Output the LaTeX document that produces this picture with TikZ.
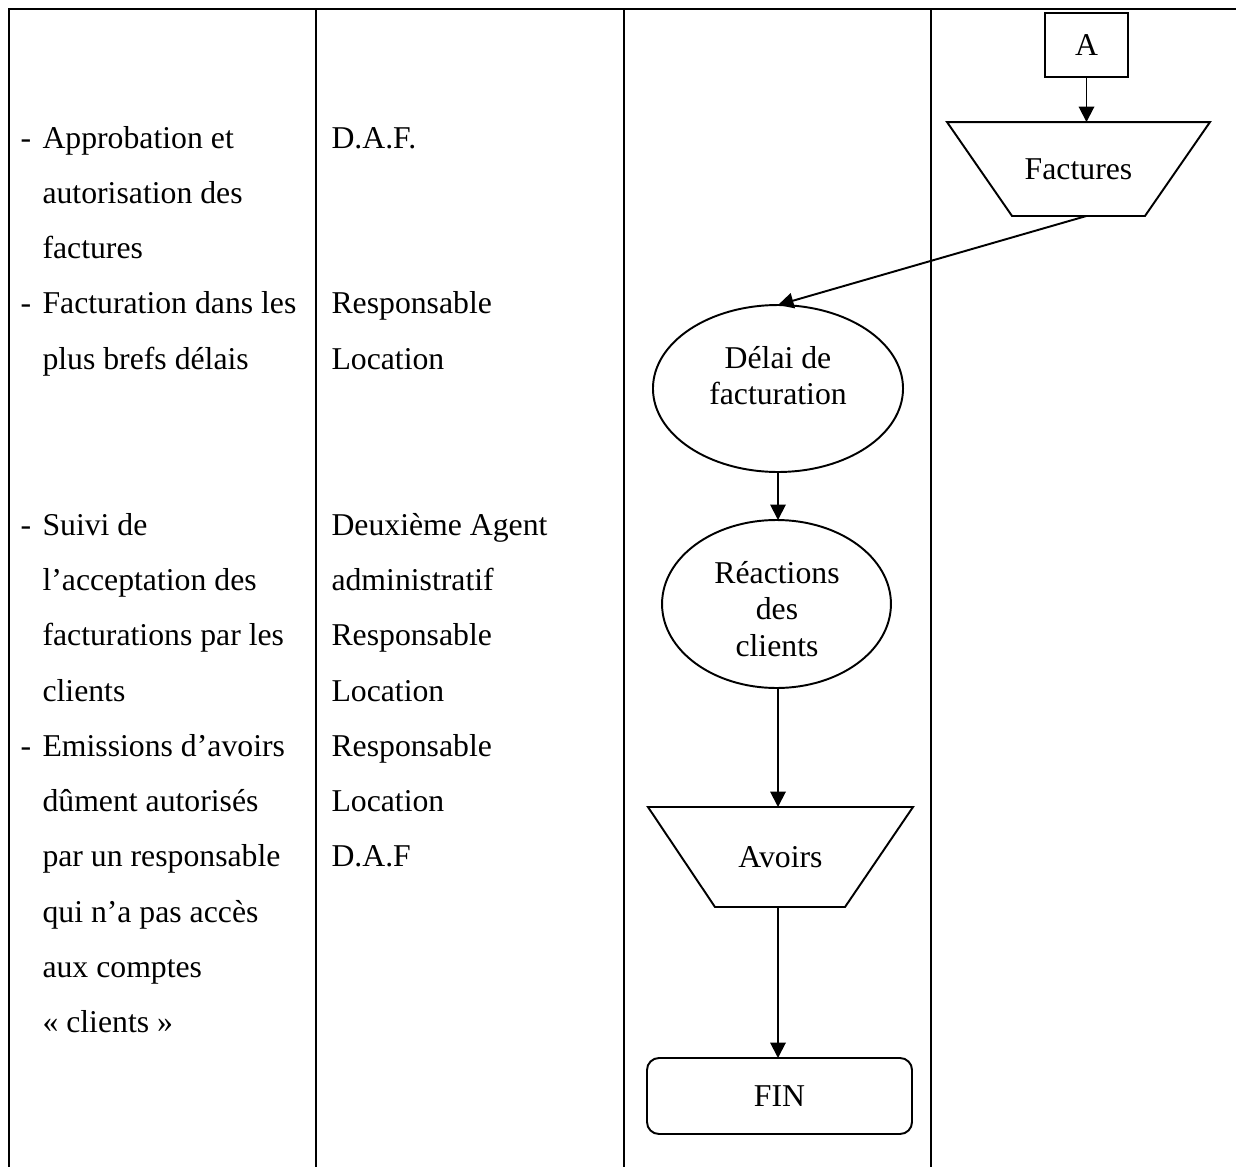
\documentclass[tikz,border=0pt]{standalone}
\usepackage{fontspec}
\setmainfont{Liberation Serif}
\usetikzlibrary{shapes.geometric,arrows.meta,calc}
\begin{document}
\begin{tikzpicture}[x=0.3875pt,y=-0.3875pt,
  grid/.style={line width=1pt},
  outline/.style={line width=0.75pt},
  flow/.style={line width=0.75pt,-{Triangle[length=6pt,width=6pt]}},
  txt/.style={anchor=base west,inner sep=0pt,font=\fontsize{12.3}{14}\selectfont},
  lbl/.style={align=center,inner sep=0pt,font=\fontsize{12.3}{14}\selectfont},
  boxnode/.style={rectangle,inner sep=0pt,outer sep=0pt,font=\fontsize{12.3}{14}\selectfont},
  ellnode/.style={ellipse,draw,outline,inner sep=0pt,outer sep=0pt},
]
\useasboundingbox (0,0) rectangle (1236,1167);

% table rules
\draw[grid] (9,1167) -- (9,9) -- (1236,9);
\draw[grid] (316,9) -- (316,1167);
\draw[grid] (624,9) -- (624,1167);
\draw[grid] (931,9) -- (931,1167);

% first column: controls
\foreach \k/\t [count=\i] in {
  0/{Approbation et}, 1/{autorisation des}, 2/{factures},
  3/{Facturation dans les}, 4/{plus brefs délais},
  7/{Suivi de}, 8/{l’acceptation des}, 9/{facturations par les}, 10/{clients},
  11/{Emissions d’avoirs}, 12/{dûment autorisés}, 13/{par un responsable},
  14/{qui n’a pas accès}, 15/{aux comptes}, 16/{« clients »}}
  {\node[txt] (ctl\i) at (42,{148+55.3*\k}) {\t};}
\foreach \k [count=\i] in {0,3,7,11}
  {\node[txt] (dash\i) at (20,{148+55.3*\k}) {-};}

% second column: people in charge
\foreach \k/\t [count=\i] in {
  0/{D.A.F.}, 3/{Responsable}, 4/{Location},
  7/{Deuxième Agent}, 8/{administratif}, 9/{Responsable}, 10/{Location},
  11/{Responsable}, 12/{Location}, 13/{D.A.F}}
  {\node[txt] (who\i) at (331,{148+55.3*\k}) {\t};}

% flowchart
\node[boxnode,draw,outline,minimum width=32.2pt,minimum height=24.8pt] (A) at (1086.5,45) {A};
\node[boxnode,minimum width=101.9pt,minimum height=36.4pt] (fac) at (1078.5,169) {Factures};
\draw[outline] (fac.north west) -- (fac.north east) -- ($(fac.south east)+(-65,0)$)
  -- ($(fac.south west)+(65,0)$) -- cycle;

\node[ellnode,minimum width=96.9pt,minimum height=64.7pt] (delai) at (778,388.5) {};
\node[lbl] (delaiT) at (778,376) {Délai de\\facturation};

\node[ellnode,minimum width=88.7pt,minimum height=65.1pt] (reac) at (776.5,604) {};
\node[lbl] (reacT) at (777,609) {Réactions\\des\\clients};

\node[boxnode,minimum width=102.7pt,minimum height=38.75pt] (avo) at (780.5,857) {Avoirs};
\draw[outline] (avo.north west) -- (avo.north east) -- ($(avo.south east)+(-68,0)$)
  -- ($(avo.south west)+(67,0)$) -- cycle;

\node[boxnode,draw,outline,rounded corners=4.65pt,minimum width=102.7pt,minimum height=29.45pt] (fin) at (779.5,1096) {FIN};

% connectors
\draw[flow] (A.south) -- (A.south |- fac.north);
\draw[flow] (A.south |- fac.south) -- (delai.north);
\draw[flow] (delai.south) -- (delai.south |- reac.north);
\draw[flow] (delai.south |- reac.south) -- (delai.south |- avo.north);
\draw[flow] (delai.south |- avo.south) -- (delai.south |- fin.north);
\end{tikzpicture}
\end{document}
